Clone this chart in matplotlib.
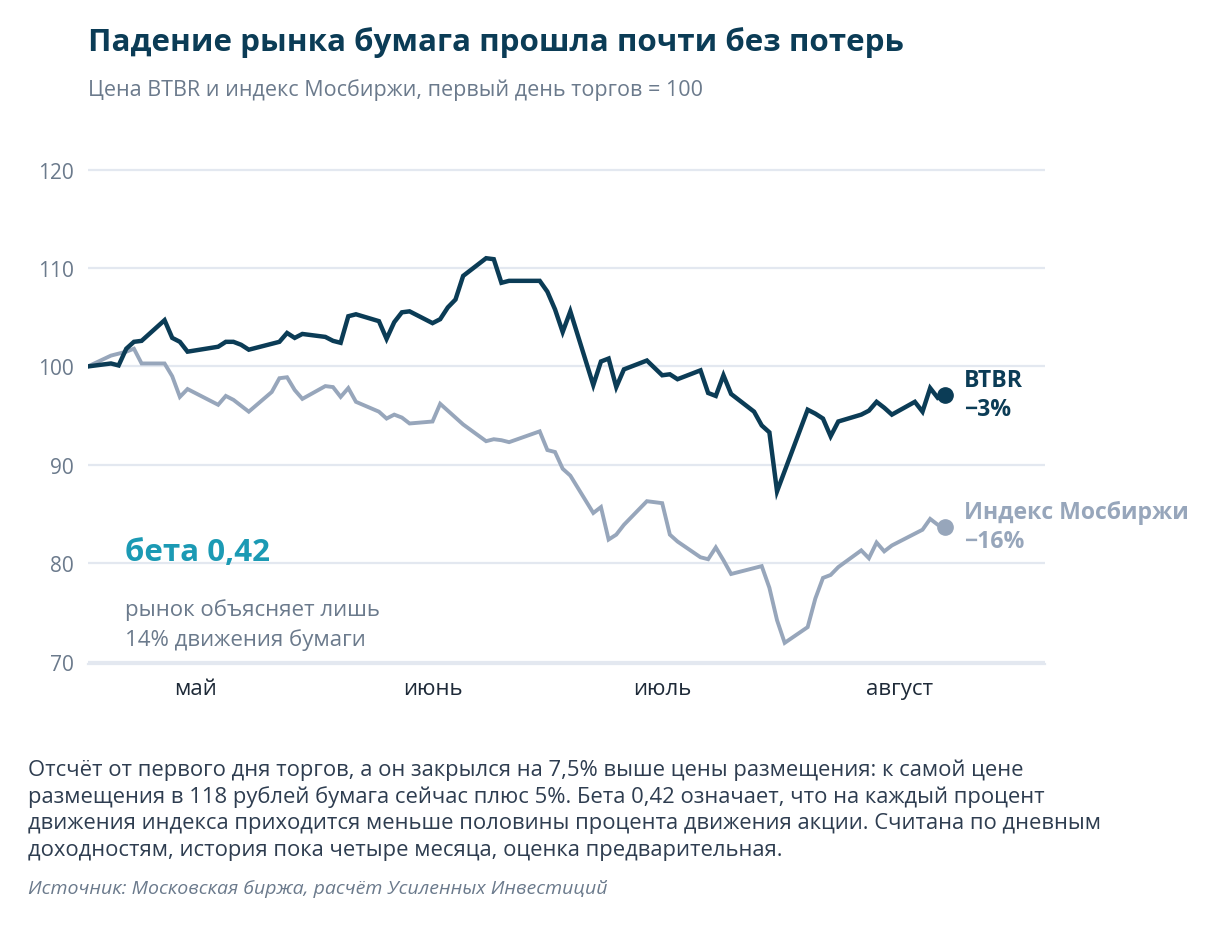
import matplotlib
matplotlib.use('Agg')
import matplotlib.pyplot as plt
import numpy as np

plt.rcParams['font.family'] = ['Open Sans', 'Noto Sans', 'DejaVu Sans']

# BTBR, first trading day = 100
btbr_dates = ['2026-04-17', '2026-04-20', '2026-04-21', '2026-04-22', '2026-04-23', '2026-04-24',
              '2026-04-27', '2026-04-28', '2026-04-29', '2026-04-30', '2026-05-04', '2026-05-05',
              '2026-05-06', '2026-05-07', '2026-05-08', '2026-05-12', '2026-05-13', '2026-05-14',
              '2026-05-15', '2026-05-18', '2026-05-19', '2026-05-20', '2026-05-21', '2026-05-22',
              '2026-05-25', '2026-05-26', '2026-05-27', '2026-05-28', '2026-05-29', '2026-06-01',
              '2026-06-02', '2026-06-03', '2026-06-04', '2026-06-05', '2026-06-08', '2026-06-09',
              '2026-06-10', '2026-06-11', '2026-06-15', '2026-06-16', '2026-06-17', '2026-06-18',
              '2026-06-19', '2026-06-22', '2026-06-23', '2026-06-24', '2026-06-25', '2026-06-26',
              '2026-06-29', '2026-07-01', '2026-07-02', '2026-07-03', '2026-07-06', '2026-07-07',
              '2026-07-08', '2026-07-09', '2026-07-10', '2026-07-13', '2026-07-14', '2026-07-15',
              '2026-07-16', '2026-07-20', '2026-07-21', '2026-07-22', '2026-07-23', '2026-07-24',
              '2026-07-27', '2026-07-28', '2026-07-29', '2026-07-30', '2026-07-31', '2026-08-03',
              '2026-08-04', '2026-08-05', '2026-08-06', '2026-08-07']
btbr_values = [100.0, 100.3, 100.1, 101.8, 102.5, 102.6,
               104.7, 102.9, 102.5, 101.5, 102.0, 102.5,
               102.5, 102.2, 101.7, 102.5, 103.4, 102.9,
               103.3, 103.0, 102.6, 102.4, 105.1, 105.3,
               104.6, 102.8, 104.5, 105.5, 105.6, 104.4,
               104.8, 106.0, 106.8, 109.2, 111.0, 110.9,
               108.5, 108.7, 108.7, 107.6, 105.8, 103.5,
               105.6, 98.1, 100.5, 100.8, 97.9, 99.7,
               100.6, 99.1, 99.2, 98.7, 99.6, 97.3,
               97.0, 99.1, 97.2, 95.4, 94.0, 93.3,
               87.3, 95.6, 95.2, 94.7, 92.9, 94.4,
               95.1, 95.5, 96.4, 95.8, 95.1, 96.4,
               95.4, 97.8, 96.8, 97.1]

# MOEX index, same base
moex_dates = ['2026-04-17', '2026-04-20', '2026-04-21', '2026-04-22', '2026-04-23', '2026-04-24',
              '2026-04-27', '2026-04-28', '2026-04-29', '2026-04-30', '2026-05-04', '2026-05-05',
              '2026-05-06', '2026-05-07', '2026-05-08', '2026-05-11', '2026-05-12', '2026-05-13',
              '2026-05-14', '2026-05-15', '2026-05-18', '2026-05-19', '2026-05-20', '2026-05-21',
              '2026-05-22', '2026-05-25', '2026-05-26', '2026-05-27', '2026-05-28', '2026-05-29',
              '2026-06-01', '2026-06-02', '2026-06-03', '2026-06-04', '2026-06-05', '2026-06-08',
              '2026-06-09', '2026-06-10', '2026-06-11', '2026-06-15', '2026-06-16', '2026-06-17',
              '2026-06-18', '2026-06-19', '2026-06-22', '2026-06-23', '2026-06-24', '2026-06-25',
              '2026-06-26', '2026-06-29', '2026-07-01', '2026-07-02', '2026-07-03', '2026-07-06',
              '2026-07-07', '2026-07-08', '2026-07-09', '2026-07-10', '2026-07-13', '2026-07-14',
              '2026-07-15', '2026-07-16', '2026-07-17', '2026-07-20', '2026-07-21', '2026-07-22',
              '2026-07-23', '2026-07-24', '2026-07-27', '2026-07-28', '2026-07-29', '2026-07-30',
              '2026-07-31', '2026-08-03', '2026-08-04', '2026-08-05', '2026-08-06', '2026-08-07']
moex_values = [100.0, 101.1, 101.3, 101.5, 101.8, 100.3,
               100.3, 99.0, 96.9, 97.7, 96.1, 97.0,
               96.6, 96.0, 95.4, 97.4, 98.8, 98.9,
               97.6, 96.7, 98.0, 97.9, 96.9, 97.8,
               96.4, 95.4, 94.7, 95.1, 94.8, 94.2,
               94.4, 96.2, 95.5, 94.8, 94.1, 92.4,
               92.6, 92.5, 92.3, 93.4, 91.5, 91.3,
               89.6, 88.9, 85.1, 85.7, 82.4, 82.9,
               83.9, 86.3, 86.1, 82.9, 82.2, 80.6,
               80.4, 81.6, 80.3, 78.9, 79.5, 79.7,
               77.5, 74.2, 71.9, 73.5, 76.4, 78.5,
               78.8, 79.6, 81.3, 80.5, 82.1, 81.2,
               81.8, 83.0, 83.4, 84.5, 83.9, 83.7]

y_ticks = [70, 80, 90, 100, 110, 120]
month_ticks = ['2026-05-01', '2026-06-01', '2026-07-01', '2026-08-01']
month_labels = ['май', 'июнь', 'июль', 'август']

NAVY = '#0b3c56'
GREYBLUE = '#97a6bb'
TEAL = '#1b9ab4'
MUTED = '#6b7a8c'
GRID = '#e3e8f0'

bd = np.array(btbr_dates, dtype='datetime64[D]')
md = np.array(moex_dates, dtype='datetime64[D]')

fig = plt.figure(figsize=(12.14, 9.29), dpi=100)
ax = fig.add_axes([88 / 1214, 1 - 665 / 929, (1045 - 88) / 1214, (665 - 151) / 929])

ax.plot(md, moex_values, color=GREYBLUE, linewidth=2.8, solid_joinstyle='miter', zorder=3)
ax.plot(bd, btbr_values, color=NAVY, linewidth=3.2, solid_joinstyle='miter', zorder=4)
ax.plot(md[-1], moex_values[-1], 'o', color=GREYBLUE, markersize=11, zorder=5)
ax.plot(bd[-1], btbr_values[-1], 'o', color=NAVY, markersize=11, zorder=5)

ax.set_xlim(np.datetime64('2026-04-17'), np.datetime64('2026-08-20'))
ax.set_ylim(69.75, 122)
ax.set_yticks(y_ticks)
ax.set_xticks(np.array(month_ticks, dtype='datetime64[D]'))
ax.set_xticklabels(month_labels)
ax.grid(axis='y', color=GRID, linewidth=1.6, zorder=0)
for s in ['top', 'right', 'left']:
    ax.spines[s].set_visible(False)
ax.spines['bottom'].set_color(GRID)
ax.spines['bottom'].set_linewidth(1.6)
ax.tick_params(axis='both', length=0)
ax.tick_params(axis='y', labelsize=15, labelcolor=MUTED, pad=10)
ax.tick_params(axis='x', labelsize=16, labelcolor='#1e2a38', pad=10)

# end labels
ax.annotate('BTBR\n−3%', (bd[-1], btbr_values[-1]), xytext=(13, 0), textcoords='offset points',
            va='center', ha='left', fontsize=16.6, fontweight='bold', color=NAVY, linespacing=1.28)
ax.annotate('Индекс Мосбиржи\n−16%', (md[-1], moex_values[-1]), xytext=(13, 0), textcoords='offset points',
            va='center', ha='left', fontsize=16.6, fontweight='bold', color=GREYBLUE, linespacing=1.28)

# headings
fig.text(88 / 1214, 1 - 43 / 929, 'Падение рынка бумага прошла почти без потерь', fontsize=22.6,
         fontweight='bold', color=NAVY, va='center', ha='left')
fig.text(88 / 1214, 1 - 90 / 929, 'Цена BTBR и индекс Мосбиржи, первый день торгов = 100', fontsize=15.5,
         color=MUTED, va='center', ha='left')

# beta callout
fig.text(125 / 1214, 1 - 553 / 929, 'бета 0,42', fontsize=22.5, fontweight='bold', color=TEAL,
         va='center', ha='left')
fig.text(125 / 1214, 1 - 610 / 929, 'рынок объясняет лишь', fontsize=16, color=MUTED, va='center', ha='left')
fig.text(125 / 1214, 1 - 640 / 929, '14% движения бумаги', fontsize=16, color=MUTED, va='center', ha='left')

note = ('Отсчёт от первого дня торгов, а он закрылся на 7,5% выше цены размещения: к самой цене\n'
        'размещения в 118 рублей бумага сейчас плюс 5%. Бета 0,42 означает, что на каждый процент\n'
        'движения индекса приходится меньше половины процента движения акции. Считана по дневным\n'
        'доходностям, история пока четыре месяца, оценка предварительная.')
fig.text(28 / 1214, 1 - 810 / 929, note, fontsize=15.8, color='#2e3d50', va='center', ha='left',
         linespacing=1.33)
fig.text(28 / 1214, 1 - 889 / 929, 'Источник: Московская биржа, расчёт Усиленных Инвестиций', fontsize=14,
         style='italic', color=MUTED, va='center', ha='left')

fig.savefig('out.png', dpi=100, facecolor='white')
